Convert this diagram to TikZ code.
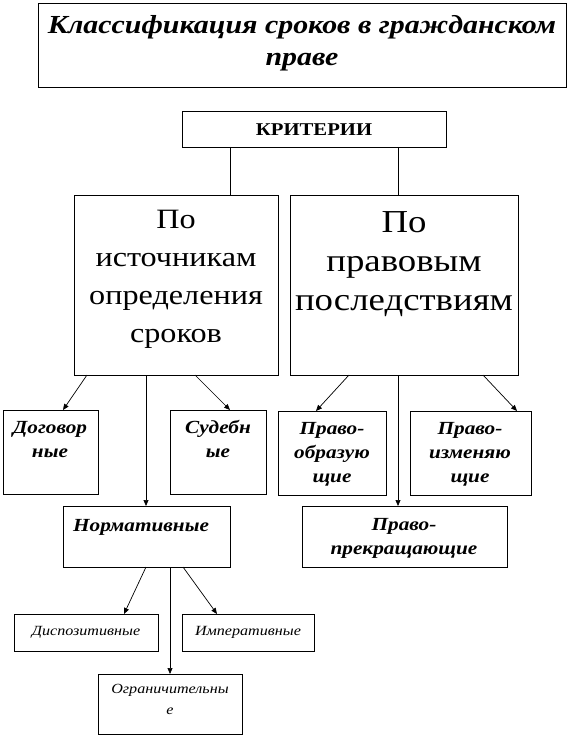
\documentclass[tikz,border=0pt]{standalone}
\usepackage{fontspec}
\setmainfont{Liberation Serif}[FakeStretch=1.15]
\usetikzlibrary{arrows.meta,calc}
\newcommand\mkbox[5]{\node[box,minimum width=#4pt,minimum height=#5pt] (#1) at (#2,#3) {};}
\begin{document}
\begin{tikzpicture}[x=1pt,y=-1pt,
  box/.style={draw, line width=0.8pt, inner sep=0pt, outer sep=0pt, anchor=north west},
  lbl/.style={anchor=base, inner sep=0pt, align=center},
  ftitle/.style={font=\fontsize{26}{32}\selectfont\bfseries\itshape},
  fkrit/.style={font=\fontsize{18}{22}\selectfont\bfseries},
  fbigA/.style={font=\fontsize{28}{38}\selectfont},
  fbigB/.style={font=\fontsize{32}{39}\selectfont},
  fsmall/.style={font=\fontsize{18.5}{24}\selectfont\bfseries\itshape},
  ftiny/.style={font=\fontsize{14}{21}\selectfont\itshape},
  arr/.style={line width=0.7pt, -{Triangle[length=6pt,width=5pt]}},
  ln/.style={line width=0.7pt}]
\useasboundingbox (0,0) rectangle (570,738);
% boxes
\mkbox{title}{38}{3}{528}{84}
\mkbox{krit}{182}{111}{264}{36}
\mkbox{src}{74}{195}{204}{180}
\mkbox{prv}{290}{195}{228}{180}
\mkbox{dog}{3}{410}{95}{84}
\mkbox{sud}{170}{410}{96}{84}
\mkbox{obr}{278}{411}{108}{84}
\mkbox{izm}{410}{411}{121}{84}
\mkbox{norm}{63}{506}{167}{61}
\mkbox{prek}{302}{506}{205}{61}
\mkbox{disp}{14}{614}{144}{37}
\mkbox{imp}{182}{614}{132}{37}
\mkbox{ogr}{98}{674}{144}{60}
% texts (anchor = baseline of last line)
\node[lbl,ftitle] (ttitle) at (302,66) {Классификация сроков в гражданском\\праве};
\node[lbl,fkrit] (tkrit) at (314,136) {КРИТЕРИИ};
\node[lbl,fbigA] (tsrc) at (176,342) {По\\источникам\\определения\\сроков};
\node[lbl,fbigB] (tprv) at (404,310) {По\\правовым\\последствиям};
\node[lbl,fsmall] (tdog) at (50,457) {Договор\\ные};
\node[lbl,fsmall] (tsud) at (218,457) {Судебн\\ые};
\node[lbl,fsmall] (tobr) at (332,482) {Право-\\образую\\щие};
\node[lbl,fsmall] (tizm) at (470,482) {Право-\\изменяю\\щие};
\node[lbl,fsmall] (tnorm) at (141,531) {Нормативные};
\node[lbl,fsmall] (tprek) at (404,554) {Право-\\прекращающие};
\node[lbl,ftiny] (tdisp) at (86,635) {Диспозитивные};
\node[lbl,ftiny] (timp) at (248,635) {Императивные};
\node[lbl,ftiny] (togr) at (170,714) {Ограничительны\\е};
% connectors
\draw[ln] ([xshift=48pt]krit.south west) -- ([xshift=48pt]krit.south west |- src.north);
\draw[ln] ([xshift=216pt]krit.south west) -- ([xshift=216pt]krit.south west |- prv.north);
\draw[arr] ([xshift=13pt]src.south west) -- ([xshift=60pt]dog.north west);
\draw[arr] ([xshift=72pt]src.south west) -- ([xshift=83pt]norm.north west);
\draw[arr] ([xshift=121pt]src.south west) -- ([xshift=60pt]sud.north west);
\draw[arr] ([xshift=59pt]prv.south west) -- ([xshift=38pt]obr.north west);
\draw[arr] ([xshift=108pt]prv.south west) -- ([xshift=96pt]prek.north west);
\draw[arr] ([xshift=193pt]prv.south west) -- ([xshift=107pt]izm.north west);
\draw[arr] ([xshift=83pt]norm.south west) -- ([xshift=110pt]disp.north west);
\draw[arr] ([xshift=107pt]norm.south west) -- ([xshift=72pt]ogr.north west);
\draw[arr] ([xshift=120pt]norm.south west) -- ([xshift=35pt]imp.north west);
\end{tikzpicture}
\end{document}
